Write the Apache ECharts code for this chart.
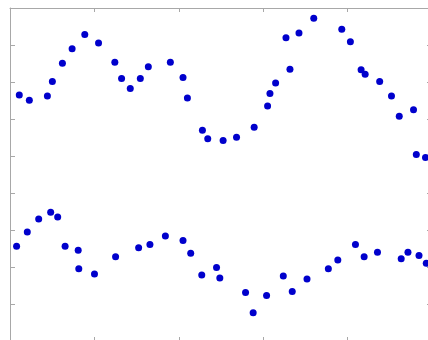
<!DOCTYPE html>
<html>
<head>
<meta charset="utf-8">
<script src="https://cdn.jsdelivr.net/npm/echarts@6/dist/echarts.min.js"></script>
<style>
html,body{margin:0;padding:0;background:#fff;overflow:hidden;}
#chart{width:428px;height:340px;}
</style>
</head>
<body>
<div id="chart"></div>
<script>
// Upper group of points
var upperX = [0.110,0.229,0.443,0.502,0.621,0.736,0.886,1.049,1.242,1.322,1.425,1.544,1.639,1.900,2.050,2.102,2.280,2.343,2.525,2.684,2.893,3.052,3.080,3.147,3.317,3.270,3.424,3.599,3.931,4.033,4.160,4.208,4.380,4.520,4.612,4.781,4.814,4.923];
var upperY = [6.650,6.507,6.623,7.011,7.504,7.900,8.286,8.051,7.531,7.092,6.822,7.092,7.415,7.531,7.119,6.569,5.698,5.464,5.420,5.509,5.779,6.353,6.687,6.973,7.342,8.197,8.321,8.725,8.429,8.089,7.334,7.208,7.011,6.623,6.075,6.251,5.043,4.962];
// Lower group of points
var lowerX = [0.078,0.205,0.340,0.482,0.565,0.653,0.808,0.815,1.001,1.251,1.524,1.658,1.841,2.050,2.141,2.272,2.447,2.486,2.791,2.881,3.040,3.238,3.344,3.519,3.772,3.884,4.093,4.196,4.354,4.635,4.715,4.846,4.932];
var lowerY = [2.563,2.949,3.299,3.480,3.353,2.563,2.456,1.951,1.809,2.275,2.518,2.606,2.841,2.714,2.375,1.782,1.987,1.701,1.313,0.765,1.232,1.755,1.340,1.674,1.951,2.186,2.606,2.275,2.402,2.221,2.402,2.310,2.100];

function pairs(xs, ys){ return xs.map(function(x,i){ return [x, ys[i]]; }); }

var axisColor = '#a8a8a8';
function xAx(pos, showLine){
  return {type:'value', position:pos, min:0, max:5, interval:1,
    axisLine:{show:showLine, onZero:false, lineStyle:{color:axisColor, width:1}},
    axisTick:{show:true, inside:true, length:4, lineStyle:{color:axisColor}},
    axisLabel:{show:false}, splitLine:{show:false}};
}
function yAx(pos, showLine){
  return {type:'value', position:pos, min:0, max:9, interval:1,
    axisLine:{show:showLine, onZero:false, lineStyle:{color:axisColor, width:1}},
    axisTick:{show:true, inside:true, length:5, lineStyle:{color:axisColor}},
    axisLabel:{show:false}, splitLine:{show:false}};
}

var chart = echarts.init(document.getElementById('chart'), null, {renderer:'canvas'});
chart.setOption({
  animation:false,
  backgroundColor:'#ffffff',
  grid:{left:10, top:8, width:422, height:333, outerBoundsMode:'none', containLabel:false},
  xAxis:[xAx('bottom', false), xAx('top', true)],
  yAxis:[yAx('left', true), yAx('right', false)],
  series:[
    {name:'upper', type:'scatter', xAxisIndex:0, yAxisIndex:0, symbolSize:7,
     itemStyle:{color:'#0000cc', opacity:1}, data:pairs(upperX, upperY)},
    {name:'lower', type:'scatter', xAxisIndex:0, yAxisIndex:0, symbolSize:7,
     itemStyle:{color:'#0000cc', opacity:1}, data:pairs(lowerX, lowerY)}
  ]
});
</script>
</body>
</html>
